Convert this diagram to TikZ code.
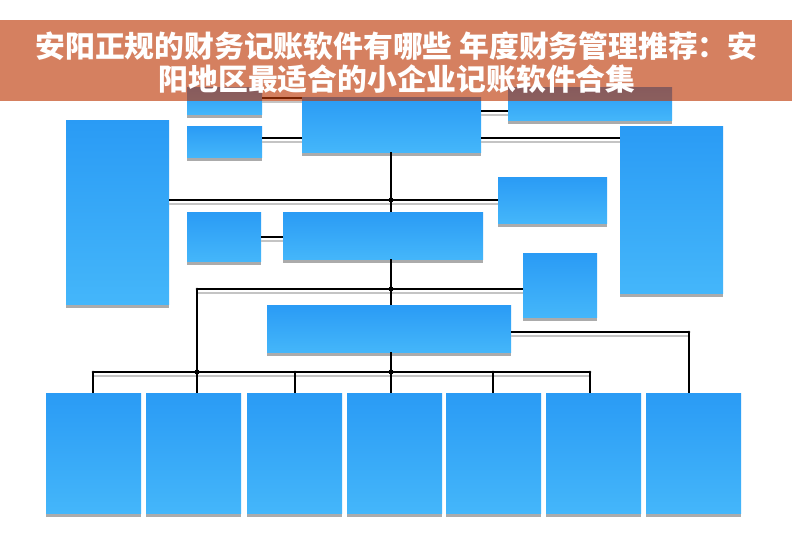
\documentclass[tikz,border=0pt]{standalone}
\usepackage{fontspec}
\newfontfamily\cjk{Noto Sans CJK SC}[BoldFont={Noto Sans CJK SC Black}]
\definecolor{boxtop}{RGB}{42,155,245}
\definecolor{boxbot}{RGB}{68,182,250}
\definecolor{shd}{RGB}{171,171,171}
\definecolor{lshdc}{RGB}{196,196,196}
\definecolor{banner}{RGB}{190,54,4}
\tikzset{
  box/.style={rectangle, inner sep=0pt, outer sep=0pt, top color=boxtop, bottom color=boxbot, draw=none},
  ln/.style={draw=black, line width=1.2pt},
  lshd/.style={draw=lshdc, line width=1.6pt},
  bigdot/.style={fill=black, circle, inner sep=0pt, minimum size=5pt},
  smalldot/.style={fill=black, circle, inner sep=0pt, minimum size=2.6pt},
  title/.style={text=white, font=\cjk\bfseries\fontsize{29.8}{34}\selectfont, inner sep=0pt},
}
\newcommand\bx[5]{%
  \fill[shd] (#2,#5) rectangle (#4,#5+4);
  \node[box, anchor=north west, minimum width={#4pt-#2pt}, minimum height={#5pt-#3pt}] (#1) at (#2,#3) {};
}
\newcommand\hl[1]{%
  \draw[lshd, transform canvas={yshift=-4pt}] #1;
  \draw[ln] #1;
}
\begin{document}
\begin{tikzpicture}[x=1pt, y=-1pt]
\useasboundingbox (0,0) rectangle (792,557);
\fill[white] (0,0) rectangle (792,557);
% boxes
\bx{A}{187}{87}{262}{114}
\bx{B}{187}{126}{262}{157}
\bx{CT}{302}{97}{481}{152}
\bx{C}{508}{87}{672}{120}
\bx{L}{66}{120}{169}{304}
\bx{R}{620}{126}{723}{293}
\bx{D}{498}{177}{607}{223}
\bx{E}{187}{212}{261}{261}
\bx{F}{283}{212}{483}{259}
\bx{G}{523}{253}{597}{317}
\bx{H}{267}{305}{511}{352}
\bx{b1}{46}{393}{141}{513}
\bx{b2}{146}{393}{241}{513}
\bx{b3}{247}{393}{342}{513}
\bx{b4}{347}{393}{442}{513}
\bx{b5}{446}{393}{541}{513}
\bx{b6}{546}{393}{641}{513}
\bx{b7}{646}{393}{741}{513}
% junction coordinates
\coordinate (j1) at (391,200);
\coordinate (j2) at (391,289);
\coordinate (k2) at (197,289);
\coordinate (bl) at (93,372);
\coordinate (br) at (590,372);
\coordinate (j3) at (391,372);
\coordinate (j4) at (197,372);
\coordinate (t3) at (295,372);
\coordinate (t5) at (493,372);
\coordinate (hr) at (689,332);
% connectors
\hl{(A.east |- 0,98) -- (CT.west |- 0,98)}
\hl{(B.east |- 0,138) -- (CT.west |- 0,138)}
\hl{(CT.east |- 0,111) -- (C.west |- 0,111)}
\hl{(CT.east |- 0,138) -- (R.west |- 0,138)}
\hl{(L.east |- j1) -- (D.west |- j1)}
\hl{(E.east |- 0,237) -- (F.west |- 0,237)}
\hl{(k2) -- (G.west |- k2)}
\hl{(bl) -- (br)}
\hl{(H.east |- hr) -- (hr)}
\draw[ln] (j1 |- CT.south) -- (j1 |- F.north);
\draw[ln] (j1 |- F.south) -- (j1 |- H.north);
\draw[ln] (j1 |- H.south) -- (j1 |- b4.north);
\draw[ln] (k2) -- (k2 |- b2.north);
\draw[ln] (bl) -- (bl |- b1.north);
\draw[ln] (t3) -- (t3 |- b3.north);
\draw[ln] (t5) -- (t5 |- b5.north);
\draw[ln] (br) -- (br |- b6.north);
\draw[ln] (hr) -- (hr |- b7.north);
\node[bigdot] at (j1) {};
\node[bigdot] at (j2) {};
\node[bigdot] at (j3) {};
\node[bigdot] at (j4) {};
\foreach \p in {k2,bl,br,t3,t5,hr} \node[smalldot] at (\p) {};
% banner
\fill[banner, fill opacity=0.63] (0,20) rectangle (792,101);
\node[title] (t1) at (396.5,46.5) {安阳正规的财务记账软件有哪些 年度财务管理推荐：安};
\node[title] (t2) at (397,79.5) {阳地区最适合的小企业记账软件合集};
\end{tikzpicture}
\end{document}
